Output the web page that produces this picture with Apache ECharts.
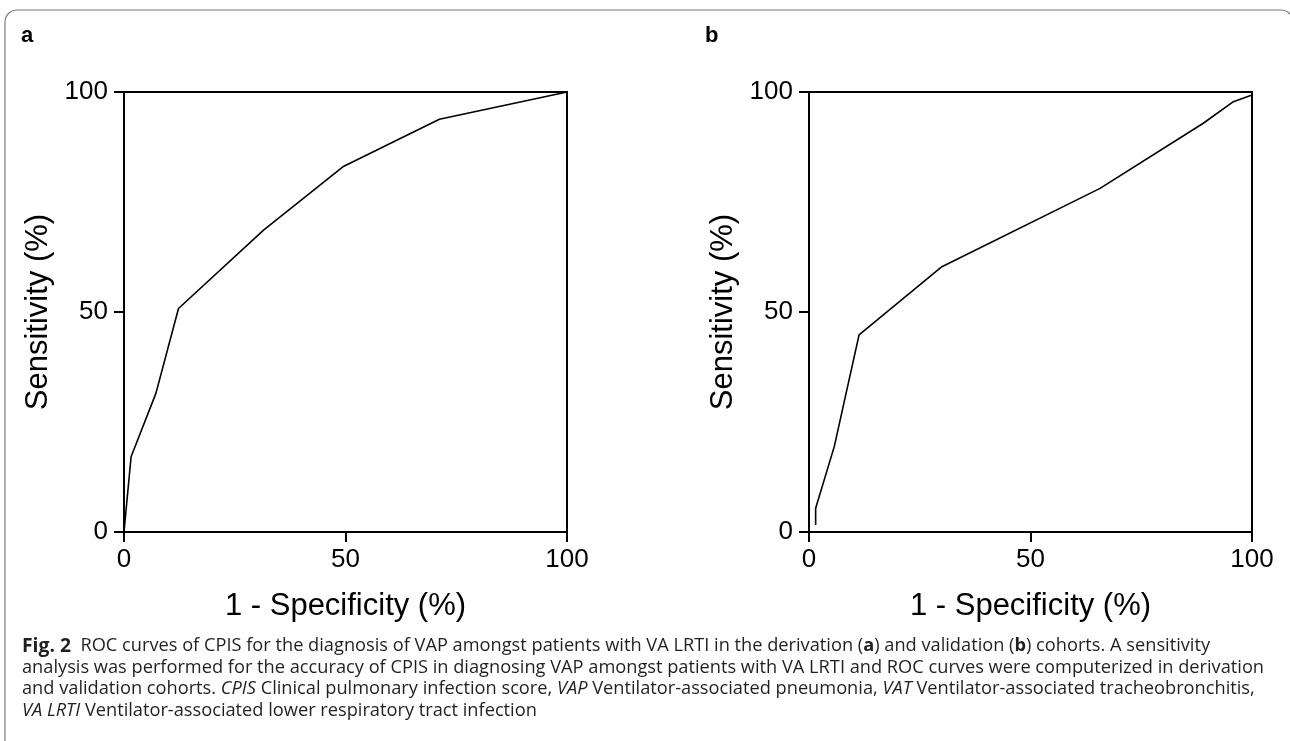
<!DOCTYPE html>
<html>
<head>
<meta charset="utf-8">
<script src="https://cdn.jsdelivr.net/npm/echarts@6/dist/echarts.min.js"></script>
<style>
html,body{margin:0;padding:0;background:#fff;}
#chart{width:1290px;height:741px;}
</style>
</head>
<body>
<div id="chart"></div>
<script>
// ---- data ----
var xTicks = [0, 50, 100];
var yTicks = [0, 50, 100];
var derivationX = [0, 1.6, 7.2, 12.3, 31.5, 49.4, 71.2, 100];
var derivationY = [0, 17.1, 31.5, 50.8, 68.6, 83.0, 93.8, 100];
var validationX = [1.5, 1.5, 5.7, 11.3, 30.0, 65.7, 89.0, 95.8, 100];
var validationY = [1.6, 5.4, 19.4, 44.8, 60.3, 78.1, 92.9, 97.8, 99.3];
var panelLabels = ['a', 'b'];
var xTitle = '1 - Specificity (%)';
var yTitle = 'Sensitivity (%)';
var captionLines = [
  '{fb|Fig. 2}  ROC curves of CPIS for the diagnosis of VAP amongst patients with VA LRTI in the derivation ({b|a}) and validation ({b|b}) cohorts. A sensitivity',
  'analysis was performed for the accuracy of CPIS in diagnosing VAP amongst patients with VA LRTI and ROC curves were computerized in derivation',
  'and validation cohorts. {i|CPIS} Clinical pulmonary infection score, {i|VAP} Ventilator-associated pneumonia, {i|VAT} Ventilator-associated tracheobronchitis,',
  '{i|VA LRTI} Ventilator-associated lower respiratory tract infection'
];

function zip(a, b) { return a.map(function (v, i) { return [v, b[i]]; }); }

var AX = 'Liberation Sans, Arial, sans-serif';
var CAP = 'Open Sans, Noto Sans, sans-serif';

// fit caption font so line 2 spans ~1243px
var capSize = 16;
try {
  var cv = document.createElement('canvas').getContext('2d');
  cv.font = '16px "Open Sans"';
  var w = cv.measureText(captionLines[1]).width;
  if (w > 0) capSize = 16 * 1243 / w;
} catch (e) {}

var chart = echarts.init(document.getElementById('chart'));

function xAxisCfg(gi) {
  return {
    gridIndex: gi, type: 'value', min: 0, max: 100, interval: 50,
    name: xTitle, nameLocation: 'middle', nameGap: 59,
    nameTextStyle: { fontFamily: AX, fontSize: 31, color: '#000' },
    axisLine: { show: true, lineStyle: { color: '#000', width: 2 } },
    axisTick: { show: true, length: 10, lineStyle: { color: '#000', width: 2 } },
    axisLabel: { fontFamily: AX, fontSize: 26, color: '#000', margin: 15,
      formatter: function (v) { return xTicks.indexOf(v) >= 0 ? String(v) : ''; } },
    splitLine: { show: false }
  };
}
function yAxisCfg(gi) {
  return {
    gridIndex: gi, type: 'value', min: 0, max: 100, interval: 50,
    name: yTitle, nameLocation: 'middle', nameGap: 70, nameRotate: 90,
    nameTextStyle: { fontFamily: AX, fontSize: 31, color: '#000' },
    axisLine: { show: true, lineStyle: { color: '#000', width: 2 } },
    axisTick: { show: true, length: 10, lineStyle: { color: '#000', width: 2 } },
    axisLabel: { fontFamily: AX, fontSize: 26, color: '#000', margin: 16,
      formatter: function (v) { return yTicks.indexOf(v) >= 0 ? String(v) : ''; } },
    splitLine: { show: false }
  };
}

var graphics = [
  { type: 'rect', shape: { x: 5, y: 10, width: 1288, height: 780, r: 12 },
    style: { fill: 'none', stroke: '#7a7a7a', lineWidth: 1.2 }, z: -1 },
  { type: 'text', left: 21, top: 25, style: { text: panelLabels[0], font: 'bold 22px ' + AX, fill: '#000' } },
  { type: 'text', left: 705, top: 25, style: { text: panelLabels[1], font: 'bold 22px ' + AX, fill: '#000' } }
];
var capY = [646, 668, 689, 711];
captionLines.forEach(function (t, i) {
  graphics.push({
    type: 'text', x: 22, y: capY[i],
    style: {
      text: t, fill: '#231f20', fontFamily: CAP, fontSize: capSize,
      verticalAlign: 'middle', align: 'left',
      rich: {
        fb: { fontFamily: CAP, fontSize: capSize * 1.06, fontWeight: 'bold', fill: '#231f20' },
        b: { fontFamily: CAP, fontSize: capSize, fontWeight: 'bold', fill: '#231f20' },
        i: { fontFamily: CAP, fontSize: capSize, fontStyle: 'italic', fill: '#231f20' }
      }
    }
  });
});

chart.setOption({
  backgroundColor: '#fff',
  animation: false,
  grid: [
    { left: 124, top: 92, width: 443, height: 440, show: true, borderColor: '#000', borderWidth: 2, backgroundColor: 'transparent' },
    { left: 809, top: 92, width: 443, height: 440, show: true, borderColor: '#000', borderWidth: 2, backgroundColor: 'transparent' }
  ],
  xAxis: [xAxisCfg(0), xAxisCfg(1)],
  yAxis: [yAxisCfg(0), yAxisCfg(1)],
  series: [
    { type: 'line', xAxisIndex: 0, yAxisIndex: 0, data: zip(derivationX, derivationY),
      showSymbol: false, symbol: 'none', lineStyle: { color: '#000', width: 1.6 } },
    { type: 'line', xAxisIndex: 1, yAxisIndex: 1, data: zip(validationX, validationY),
      showSymbol: false, symbol: 'none', lineStyle: { color: '#000', width: 1.6 } }
  ],
  graphic: graphics
});
</script>
</body>
</html>
